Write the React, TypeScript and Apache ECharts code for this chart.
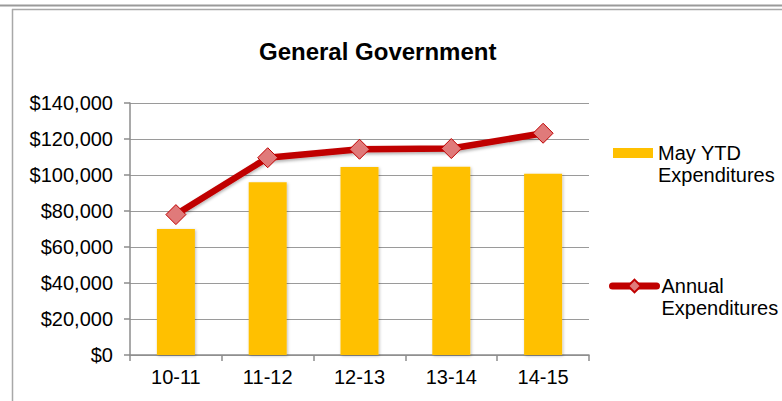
import React, { useEffect, useRef } from "react";
import * as echarts from "echarts";

const categories = ["10-11", "11-12", "12-13", "13-14", "14-15"];
const mayYtd = [70000, 96000, 104500, 104600, 100700];
const annual = [78000, 109600, 114300, 114700, 123200];
const seriesNames = ["May YTD\nExpenditures", "Annual\nExpenditures"];
const titleText = "General Government";

const FONT = "'Liberation Sans', Arial, Helvetica, sans-serif";

function money(v: number): string {
  const s = Math.round(v).toString().replace(/\B(?=(\d{3})+(?!\d))/g, ",");
  return "$" + s;
}

function legendLabel(name: string): string {
  const lines = name.split("\n");
  return "{e| }\n" + lines.map((l) => "{a|" + l + "}").join("\n");
}

const legendText = {
  fontFamily: FONT,
  fontSize: 20,
  color: "#000",
  rich: {
    e: { fontFamily: FONT, fontSize: 20, lineHeight: 22, color: "#000" },
    a: { fontFamily: FONT, fontSize: 20, lineHeight: 22, color: "#000" },
  },
};

export default function App() {
  const ref = useRef<HTMLDivElement>(null);
  useEffect(() => {
    if (!ref.current) return;
    const chart = echarts.init(ref.current, null, { renderer: "svg" });
    chart.setOption({
      animation: false,
      backgroundColor: "#ffffff",
      textStyle: { fontFamily: FONT },
      title: {
        text: titleText,
        left: 259,
        top: 39,
        padding: 0,
        textStyle: { fontFamily: FONT, fontSize: 24, fontWeight: "bold", color: "#000" },
      },
      grid: { left: 130, right: 193, top: 103, bottom: 46, containLabel: false },
      legend: [
        {
          data: [seriesNames[0]],
          left: 613,
          top: 121,
          orient: "vertical",
          padding: 0,
          itemWidth: 40,
          itemHeight: 10,
          itemGap: 0,
          icon: "rect",
          selectedMode: false,
          formatter: legendLabel,
          textStyle: legendText,
        },
        {
          data: [seriesNames[1]],
          left: 609,
          top: 254,
          orient: "vertical",
          padding: 0,
          itemWidth: 44,
          itemHeight: 16,
          itemGap: 0,
          selectedMode: false,
          formatter: legendLabel,
          lineStyle: { width: 7, cap: "round" },
          textStyle: legendText,
        },
      ],
      xAxis: {
        type: "category",
        data: categories,
        axisLine: { lineStyle: { color: "#8c8c8c", width: 1.5 } },
        axisTick: { show: true, length: 6, lineStyle: { color: "#8c8c8c", width: 1.5 } },
        axisLabel: { fontFamily: FONT, fontSize: 20, color: "#000", margin: 12 },
        splitLine: { show: false },
      },
      yAxis: {
        type: "value",
        min: 0,
        max: 140000,
        interval: 20000,
        axisLine: { show: true, lineStyle: { color: "#8c8c8c", width: 1.5 } },
        axisTick: { show: true, length: 6, lineStyle: { color: "#8c8c8c", width: 1.5 } },
        axisLabel: { fontFamily: FONT, fontSize: 20, color: "#000", margin: 17, formatter: (v: number) => money(v) },
        splitLine: { show: true, lineStyle: { color: "#9a9a9a", width: 1.2 } },
      },
      series: [
        {
          name: seriesNames[0],
          type: "bar",
          data: mayYtd,
          barWidth: 38,
          itemStyle: {
            color: "#FFC000",
            shadowColor: "rgba(0,0,0,0.25)",
            shadowBlur: 3,
            shadowOffsetX: 1,
            shadowOffsetY: 1,
          },
        },
        {
          name: seriesNames[1],
          type: "line",
          data: annual,
          symbol: "diamond",
          symbolSize: 20,
          z: 5,
          lineStyle: {
            color: "#C00000",
            width: 6.5,
            shadowColor: "rgba(0,0,0,0.3)",
            shadowBlur: 3,
            shadowOffsetY: 2,
          },
          itemStyle: {
            color: "#E07A7A",
            borderColor: "#C00000",
            borderWidth: 1,
          },
        },
      ],
      graphic: [
        { type: "line", shape: { x1: 0, y1: 5.5, x2: 782, y2: 5.5 }, style: { stroke: "#9a9a9a", lineWidth: 2 } },
        { type: "line", shape: { x1: 12, y1: 9.5, x2: 782, y2: 9.5 }, style: { stroke: "#a8a8a8", lineWidth: 1.5 } },
        { type: "line", shape: { x1: 12.5, y1: 9, x2: 12.5, y2: 401 }, style: { stroke: "#a8a8a8", lineWidth: 1.5 } },
      ],
    });
    return () => chart.dispose();
  }, []);
  return (
    <div
      ref={ref}
      style={{ position: "fixed", left: 0, top: 0, width: 782, height: 401 }}
    />
  );
}
